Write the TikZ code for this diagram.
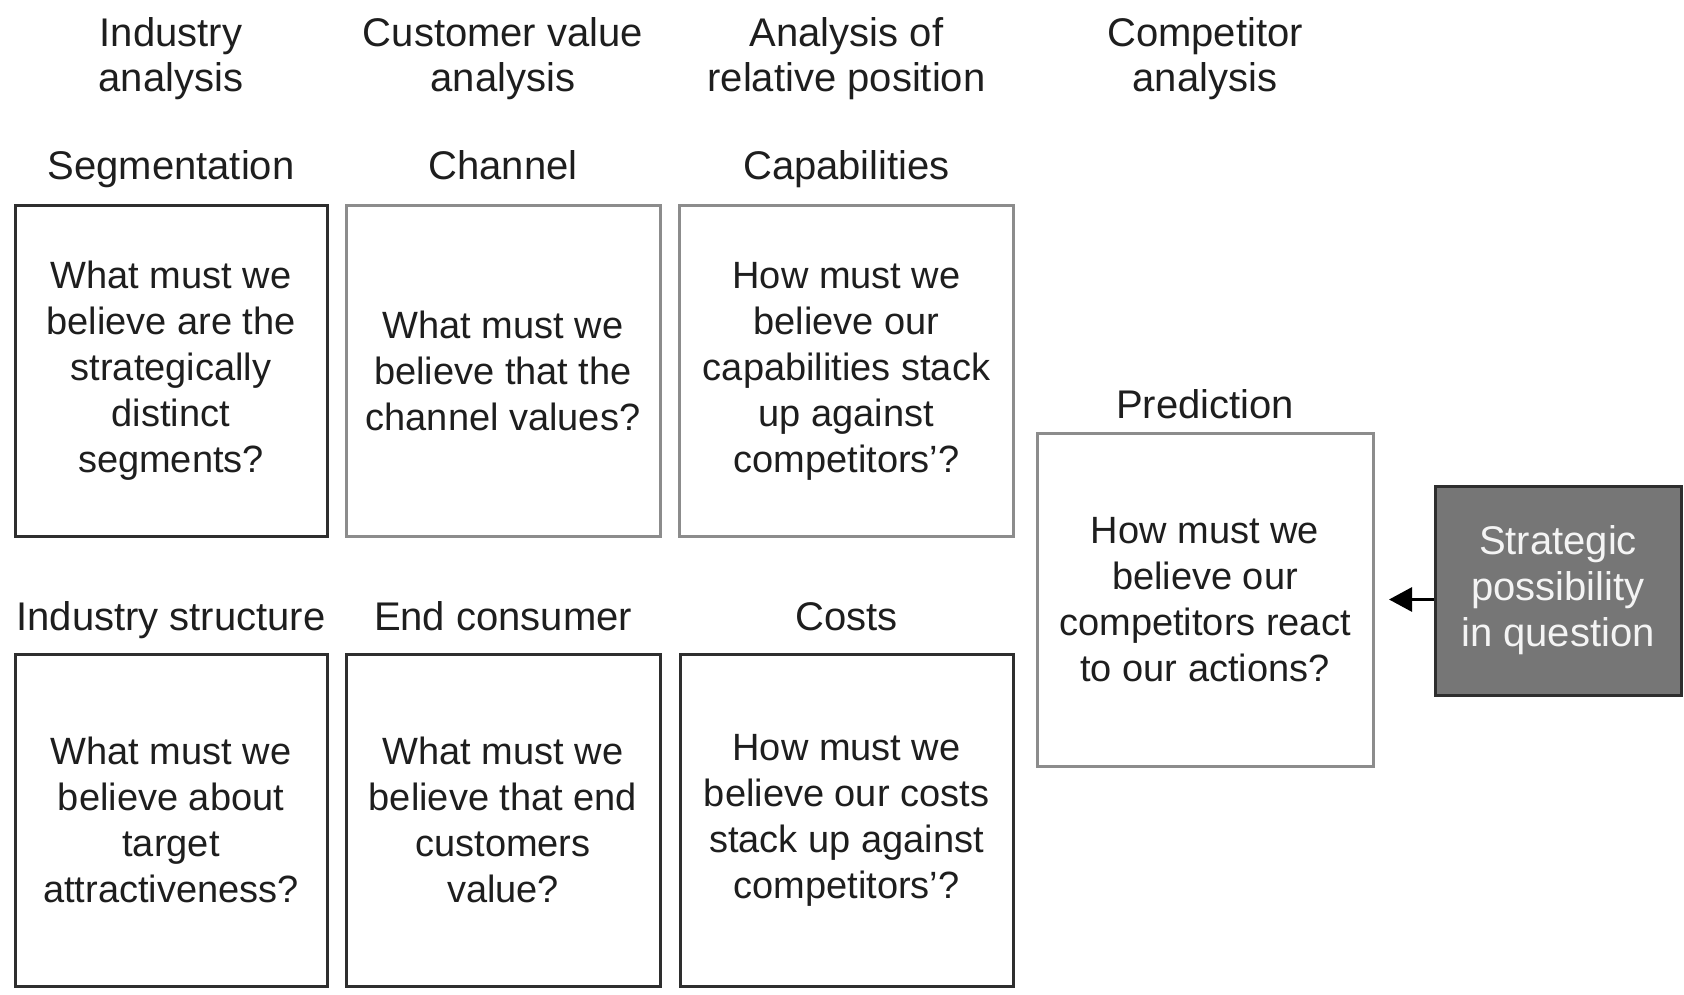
\documentclass[tikz,border=0pt]{standalone}
\usepackage{fontspec}
\setmainfont{Liberation Sans}
\usetikzlibrary{arrows.meta}
\definecolor{txt}{HTML}{1E1E1E}
\definecolor{grayline}{HTML}{8C8C8C}
\definecolor{darkline}{HTML}{2E2E2E}
\definecolor{stratfill}{HTML}{767676}
\definecolor{strattext}{HTML}{F4F4F4}
\tikzset{
  headtext/.style={text=txt, align=center, inner sep=0pt, font=\fontsize{40}{45}\selectfont},
  labeltext/.style={text=txt, inner sep=0pt, anchor=base, font=\fontsize{40}{46}\selectfont},
  qbox/.style={draw, line width=3pt, rectangle, align=center, inner sep=0pt, text=txt,
    font=\fontsize{38}{46}\selectfont},
  darkbox/.style={qbox, draw=darkline},
  lightbox/.style={qbox, draw=grayline},
  stratbox/.style={draw=darkline, fill=stratfill, line width=3pt, rectangle, align=center,
    inner sep=0pt, text=strattext, font=\fontsize{40}{46}\selectfont},
  connector/.style={line width=3pt, draw=black, -{Triangle[length=23pt,width=24pt]}}
}
\begin{document}
\begin{tikzpicture}[x=1pt,y=-1pt]
\useasboundingbox[fill=white] (0,0) rectangle (1684,995);
% column headers
\node[headtext] (h1) at (171,59) {Industry\\analysis};
\node[headtext] (h2) at (503,59) {Customer value\\analysis};
\node[headtext] (h3) at (846.5,59) {Analysis of\\relative position};
\node[headtext] (h4) at (1205,59) {Competitor\\analysis};
% row 1 labels
\node[labeltext] (l1) at (171,180) {Segmentation};
\node[labeltext] (l2) at (503,180) {Channel};
\node[labeltext] (l3) at (846.5,180) {Capabilities};
% row 1 boxes
\node[darkbox, minimum width=312pt, minimum height=330pt] (b1) at (171,371)
  {What must we\\believe are the\\strategically\\distinct\\segments?};
\node[lightbox, minimum width=314pt, minimum height=330pt] (b2) at (503,371)
  {What must we\\believe that the\\channel values?};
\node[lightbox, minimum width=334pt, minimum height=330pt] (b3) at (846.5,371)
  {How must we\\believe our\\capabilities stack\\up against\\competitors'?};
% row 2 labels
\node[labeltext] (l4) at (171,630) {Industry structure};
\node[labeltext] (l5) at (503,630) {End consumer};
\node[labeltext] (l6) at (846.5,630) {Costs};
% row 2 boxes
\node[darkbox, minimum width=312pt, minimum height=332pt] (b4) at (171,820)
  {What must we\\believe about\\target\\attractiveness?};
\node[darkbox, minimum width=314pt, minimum height=332pt] (b5) at (503,820)
  {What must we\\believe that end\\customers\\value?};
\node[darkbox, minimum width=333pt, minimum height=332pt] (b6) at (846.5,820)
  {How must we\\believe our costs\\stack up against\\competitors'?};
% prediction
\node[labeltext] (l7) at (1205,418) {Prediction};
\node[lightbox, minimum width=336pt, minimum height=333pt] (pred) at (1205,599.5)
  {How must we\\believe our\\competitors react\\to our actions?};
% strategic possibility
\node[stratbox, minimum width=246pt, minimum height=209pt] (strat) at (1558,590.5)
  {Strategic\\possibility\\in question};
\coordinate (tip) at (1389,599.5);
\draw[connector] (strat.west |- tip) -- (tip);
\end{tikzpicture}
\end{document}
